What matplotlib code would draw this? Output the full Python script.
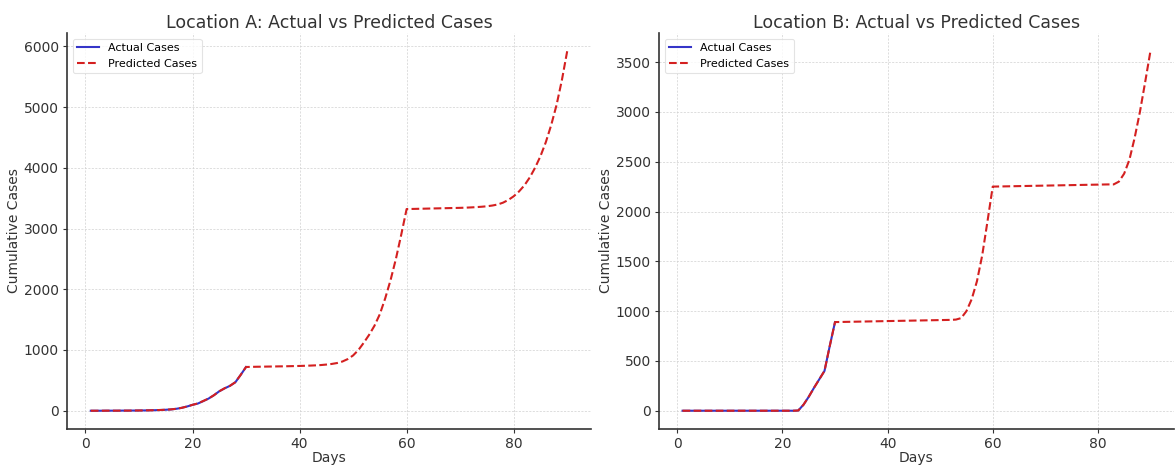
import matplotlib
matplotlib.use("Agg")
import matplotlib.pyplot as plt

days = list(range(1, 91))

actual_a = [0, 0, 0, 1, 1, 1, 2, 2, 3, 4, 5, 7, 9, 12, 16,
            22, 32, 48, 70, 97, 118, 158, 200, 255, 320, 368, 410, 468, 590, 720]
pred_a = [0, 0, 0, 1, 1, 1, 2, 2, 3, 4, 5, 7, 9, 12, 16,
          22, 32, 48, 70, 97, 120, 160, 200, 255, 320, 370, 410, 470, 590, 720,
          722, 724, 725, 727, 728, 730, 731, 733, 735, 737, 740, 743, 747, 752, 760,
          770, 785, 810, 850, 910, 1000, 1120, 1250, 1400, 1590, 1850, 2150, 2500, 2900, 3320,
          3322, 3324, 3326, 3328, 3330, 3332, 3334, 3336, 3338, 3340, 3343, 3347, 3352, 3358, 3366,
          3378, 3395, 3425, 3470, 3530, 3610, 3710, 3840, 4000, 4190, 4420, 4700, 5030, 5440, 5920]

actual_b = [0] * 22 + [2, 60, 140, 230, 315, 400, 650, 890]
pred_b = [0] * 22 + [2, 60, 140, 230, 315, 400, 650, 890,
          891, 892, 893, 894, 895, 896, 897, 898, 899, 900, 901, 902, 903, 904, 905,
          906, 907, 908, 909, 910, 911, 912, 915, 930, 1000, 1120, 1300, 1560, 1900, 2250,
          2251, 2252, 2253, 2254, 2255, 2256, 2257, 2258, 2259, 2260, 2261, 2262, 2263, 2264, 2265,
          2266, 2267, 2268, 2269, 2270, 2271, 2272, 2272, 2300, 2380, 2520, 2740, 3000, 3300, 3610]

titles = ["Location A: Actual vs Predicted Cases", "Location B: Actual vs Predicted Cases"]

fig = plt.figure(figsize=(11.75, 4.67), dpi=100)
ax1 = fig.add_axes([0.057, 0.082, 0.446, 0.847])
ax2 = fig.add_axes([0.561, 0.082, 0.438, 0.847])

for ax, act, pred, title in [(ax1, actual_a, pred_a, titles[0]), (ax2, actual_b, pred_b, titles[1])]:
    ax.plot(days[:len(act)], act, color="#3535c8", lw=1.5, label="Actual Cases")
    ax.plot(days, pred, color="#d42020", lw=1.5, ls="--", label="Predicted Cases")
    ax.set_title(title, fontsize=12.5, color="#333333", pad=4)
    ax.set_xlabel("Days", fontsize=10, color="#333333", labelpad=0)
    ax.set_ylabel("Cumulative Cases", fontsize=10, color="#333333", labelpad=2)
    ax.grid(True, ls=(0, (3, 2)), lw=0.5, color="#d0d0d0")
    ax.set_axisbelow(True)
    for s in ["top", "right"]:
        ax.spines[s].set_visible(False)
    for s in ["left", "bottom"]:
        ax.spines[s].set_color("#333333")
        ax.spines[s].set_linewidth(1.2)
    ax.tick_params(direction="out", length=3, width=0.8, color="#333333",
                   labelsize=10, labelcolor="#333333", pad=3)
    ax.set_xticks([0, 20, 40, 60, 80])
    leg = ax.legend(loc="upper left", fontsize=8, frameon=True, fancybox=True,
                    borderpad=0.4, handlelength=2.0)
    leg.get_frame().set_edgecolor("#dddddd")
    leg.get_frame().set_linewidth(0.8)

fig.savefig("out.png", dpi=100)
